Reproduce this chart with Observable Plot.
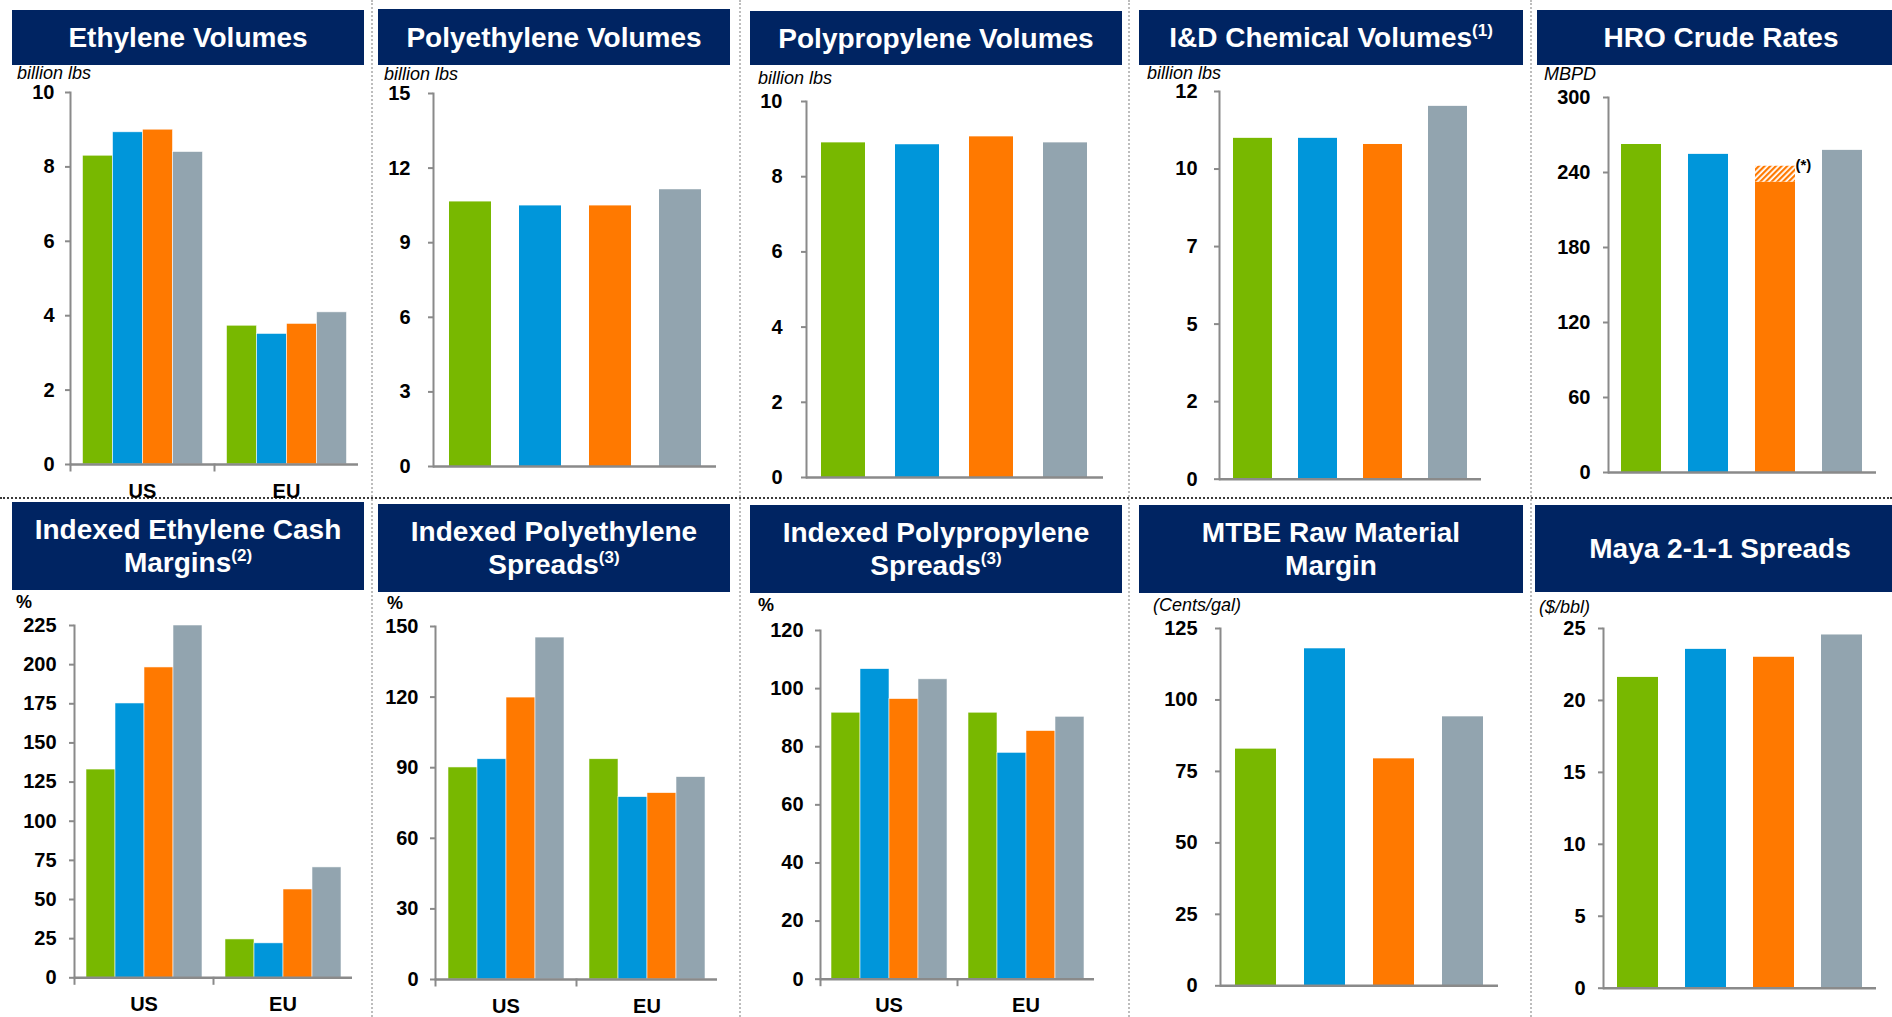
<!DOCTYPE html>
<html>
<head>
<meta charset="utf-8">
<script src="https://cdn.jsdelivr.net/npm/d3@7"></script>
<script src="https://cdn.jsdelivr.net/npm/@observablehq/plot@0.6"></script>
<style>
  html, body { margin: 0; padding: 0; background: #fff; overflow: hidden; }
  #page { position: relative; width: 1892px; height: 1017px; overflow: hidden; font-family: "Liberation Sans", Arial, sans-serif; }
  .hdr { position: absolute; background: #002462; color: #fff; font-weight: bold; font-size: 28px; line-height: 33px;
         display: flex; align-items: center; justify-content: center; text-align: center; }
  .hdr sup { font-size: 17px; position: relative; top: -1px; vertical-align: super; line-height: 0; }
  .unit { position: absolute; font-size: 18px; line-height: 18px; font-style: italic; color: #000; white-space: nowrap; }
  .unit.pct { font-style: normal; font-weight: bold; }
  .chart { position: absolute; }
  .chart g[aria-label$="tick label"] text { font-size: 20px; font-weight: bold; fill: #000; }
  .vdot { position: absolute; top: 0; height: 1017px; border-left: 2px dotted #bdbdbd; }
  .hdot { position: absolute; left: 0; width: 1892px; border-top: 2px dotted #3a3a3a; }
</style>
</head>
<body>
<svg width="0" height="0" style="position:absolute">
  <defs>
    <pattern id="hatch" patternUnits="userSpaceOnUse" width="4" height="4" patternTransform="rotate(45)">
      <rect width="4" height="4" fill="#ffffff"></rect>
      <rect width="2.2" height="4" fill="#ff7900"></rect>
    </pattern>
  </defs>
</svg>
<div id="page"></div>
<script>
// ---------------- DATA ----------------
const periods = ["Period 1", "Period 2", "Period 3", "Period 4"];
const regions = ["US", "EU"];

const ethyleneVolumesUS = [8.30, 8.93, 9.00, 8.40];
const ethyleneVolumesEU = [3.73, 3.51, 3.78, 4.09];
const polyethyleneVolumes = [10.64, 10.48, 10.48, 11.13];
const polypropyleneVolumes = [8.90, 8.85, 9.06, 8.90];
const idChemicalVolumes = [10.55, 10.55, 10.36, 11.54];
const hroCrudeRates = [262.4, 254.5, 232.3, 257.7];
const hroCrudeAdjusted = [null, null, 245.0, null];

const ethyleneMarginsUS = [133, 175.2, 198.2, 225];
const ethyleneMarginsEU = [24.5, 22.0, 56.4, 70.5];
const polyethyleneSpreadsUS = [90.1, 93.6, 119.8, 145.3];
const polyethyleneSpreadsEU = [93.6, 77.5, 79.2, 86.0];
const polypropyleneSpreadsUS = [91.7, 106.7, 96.4, 103.2];
const polypropyleneSpreadsEU = [91.7, 77.9, 85.4, 90.3];
const mtbeMargin = [82.8, 117.9, 79.4, 94.1];
const mayaSpreads = [21.6, 23.55, 23.0, 24.55];

const ticksEthVol = [0, 2, 4, 6, 8, 10];
const ticksPEVol = [0, 3, 6, 9, 12, 15];
const ticksPPVol = [0, 2, 4, 6, 8, 10];
const ticksIDVol = [0, 2.4, 4.8, 7.2, 9.6, 12];
const ticksHRO = [0, 60, 120, 180, 240, 300];
const ticksEthMargin = [0, 25, 50, 75, 100, 125, 150, 175, 200, 225];
const ticksPESpread = [0, 30, 60, 90, 120, 150];
const ticksPPSpread = [0, 20, 40, 60, 80, 100, 120];
const ticksMTBE = [0, 25, 50, 75, 100, 125];
const ticksMaya = [0, 5, 10, 15, 20, 25];

// ---------------- STYLE ----------------
const seriesColors = ["#78b800", "#0096da", "#ff7900", "#92a4af"];
const AXIS = "#8a8a8a";
const FONT = "'Liberation Sans', Arial, sans-serif";
const page = document.getElementById("page");

function single(values) {
  return values.map((v, i) => ({period: periods[i], value: v}));
}
function grouped(us, eu) {
  return regions.flatMap(r => (r === "US" ? us : eu).map((v, i) => ({region: r, period: periods[i], value: v})));
}

function addDiv(cls, css, html) {
  const d = document.createElement("div");
  d.className = cls;
  Object.assign(d.style, css);
  if (html !== undefined) d.innerHTML = html;
  page.appendChild(d);
  return d;
}

// separators
[371, 739, 1128, 1530].forEach(x => addDiv("vdot", {left: x + "px"}));
addDiv("hdot", {top: "497px"});

function header(x0, x1, y0, y1, html) {
  addDiv("hdr", {left: x0 + "px", top: y0 + "px", width: (x1 - x0) + "px", height: (y1 - y0) + "px"}, "<span>" + html + "</span>");
}
function unit(x, baseline, text, pct) {
  addDiv("unit" + (pct ? " pct" : ""), {left: x + "px", top: (baseline - 15.2) + "px"}, text);
}

function panel(cfg) {
  const MT = 10, MB = 36;
  const plotH = cfg.bottom - cfg.top;
  const H = plotH + MT + MB;
  const W = cfg.right - cfg.left + 10;
  const ML = cfg.axisX - cfg.left;
  const yAxis = Plot.axisY({
    ticks: cfg.ticks, tickFormat: d3.format(".0f"), tickSize: 5, tickPadding: cfg.pad,
    stroke: AXIS, strokeWidth: 2, fill: "#000", fontSize: 20, fontWeight: "bold", label: null
  });
  const common = {
    width: W, height: H, marginLeft: ML, marginRight: 10, marginTop: MT, marginBottom: MB,
    style: {background: "none", fontFamily: FONT, overflow: "visible"},
    y: {domain: [0, cfg.max]},
    color: {domain: periods, range: seriesColors}
  };
  let chart;
  if (cfg.grouped) {
    chart = Plot.plot({
      ...common,
      fx: {domain: regions, padding: 0, label: null},
      x: {domain: periods, paddingInner: 0, paddingOuter: cfg.po, axis: null},
      marks: [
        Plot.barY(cfg.data, {fx: "region", x: "period", y: "value", fill: "period", stroke: "#ffffff", strokeWidth: 0.7, strokeOpacity: 0.8}),
        Plot.ruleY([0], {stroke: AXIS, strokeWidth: 2.5}),
        // small group-boundary ticks below the baseline (left edge of each facet)
        Plot.frame({anchor: "left", insetTop: plotH, insetBottom: -6, stroke: AXIS, strokeWidth: 2}),
        Plot.frame({anchor: "left", facetAnchor: "left", stroke: AXIS, strokeWidth: 2}),
        yAxis,
        Plot.axisFx({anchor: "bottom", tickSize: 0, tickPadding: 19, fontSize: 20, fontWeight: "bold", fill: "#000", label: null})
      ]
    });
  } else {
    const marks = [
      Plot.barY(cfg.data, {x: "period", y: "value", fill: "period"}),
    ];
    if (cfg.extra) marks.push(...cfg.extra);
    marks.push(
      Plot.ruleY([0], {stroke: AXIS, strokeWidth: 2.5}),
      Plot.frame({anchor: "left", stroke: AXIS, strokeWidth: 2}),
      yAxis
    );
    chart = Plot.plot({
      ...common,
      x: {domain: periods, paddingInner: 0.4, paddingOuter: cfg.po ?? 0.2, axis: null},
      marks
    });
  }
  const holder = addDiv("chart", {left: cfg.left + "px", top: (cfg.top - MT) + "px", width: W + "px", height: H + "px"});
  holder.appendChild(chart);
}

// ---------------- TOP ROW ----------------
header(12, 364, 10, 65, "Ethylene Volumes");
unit(17, 79, "billion lbs");
panel({grouped: true, data: grouped(ethyleneVolumesUS, ethyleneVolumesEU), max: 10, ticks: ticksEthVol,
  left: 0, axisX: 69.5, right: 359, top: 92, bottom: 464, pad: 11, po: 0.35});

header(378, 730, 9, 65, "Polyethylene Volumes");
unit(384, 80, "billion lbs");
panel({data: single(polyethyleneVolumes), max: 15, ticks: ticksPEVol,
  left: 372, axisX: 433, right: 716, top: 92.7, bottom: 465.7, pad: 18});

header(750, 1122, 11, 65, "Polypropylene Volumes");
unit(758, 84, "billion lbs");
panel({data: single(polypropyleneVolumes), max: 10, ticks: ticksPPVol,
  left: 741, axisX: 806, right: 1103, top: 100.7, bottom: 476.7, pad: 19});

header(1139, 1523, 10, 65, "I&amp;D Chemical Volumes<sup>(1)</sup>");
unit(1147, 79, "billion lbs");
panel({data: single(idChemicalVolumes), max: 12, ticks: ticksIDVol,
  left: 1130, axisX: 1219, right: 1481, top: 91, bottom: 478.7, pad: 17});

header(1537, 1905, 10, 65, "HRO Crude Rates");
unit(1544, 80, "MBPD");
const hroAdj = hroCrudeAdjusted
  .map((v, i) => ({period: periods[i], base: hroCrudeRates[i], adjusted: v}))
  .filter(d => d.adjusted != null);
panel({data: single(hroCrudeRates), max: 300, ticks: ticksHRO,
  left: 1531, axisX: 1608, right: 1876, top: 97, bottom: 472, pad: 13,
  extra: [
    Plot.barY(hroAdj, {x: "period", y1: "base", y2: "adjusted", fill: "url(#hatch)"}),
    Plot.text(hroAdj, {x: "period", y: "adjusted", text: () => "(*)", textAnchor: "start", dx: 20, dy: -1,
      fontSize: 15, fontWeight: "bold", fill: "#000"})
  ]});

// ---------------- BOTTOM ROW ----------------
header(12, 364, 502, 590, "Indexed Ethylene Cash<br>Margins<sup>(2)</sup>");
unit(16, 608, "%", true);
panel({grouped: true, data: grouped(ethyleneMarginsUS, ethyleneMarginsEU), max: 225, ticks: ticksEthMargin,
  left: 0, axisX: 73, right: 352, top: 625, bottom: 977.3, pad: 13, po: 0.33});

header(378, 730, 504, 592, "Indexed Polyethylene<br>Spreads<sup>(3)</sup>");
unit(387, 609, "%", true);
panel({grouped: true, data: grouped(polyethyleneSpreadsUS, polyethyleneSpreadsEU), max: 150, ticks: ticksPESpread,
  left: 372, axisX: 434, right: 717, top: 626, bottom: 979, pad: 12, po: 0.36});

header(750, 1122, 505, 593, "Indexed Polypropylene<br>Spreads<sup>(3)</sup>");
unit(758, 611, "%", true);
panel({grouped: true, data: grouped(polypropyleneSpreadsUS, polypropyleneSpreadsEU), max: 120, ticks: ticksPPSpread,
  left: 741, axisX: 819, right: 1094, top: 630, bottom: 978.7, pad: 12, po: 0.35});

header(1139, 1523, 505, 593, "MTBE Raw Material<br>Margin");
unit(1153, 611, "(Cents/gal)");
panel({data: single(mtbeMargin), max: 125, ticks: ticksMTBE,
  left: 1130, axisX: 1220, right: 1498, top: 627.7, bottom: 985, pad: 18, po: 0.21});

header(1535, 1905, 505, 592, "Maya 2-1-1 Spreads");
unit(1539, 613, "($/bbl)");
panel({data: single(mayaSpreads), max: 25, ticks: ticksMaya,
  left: 1531, axisX: 1603, right: 1876, top: 628, bottom: 987.7, pad: 13});
</script>
</body>
</html>
